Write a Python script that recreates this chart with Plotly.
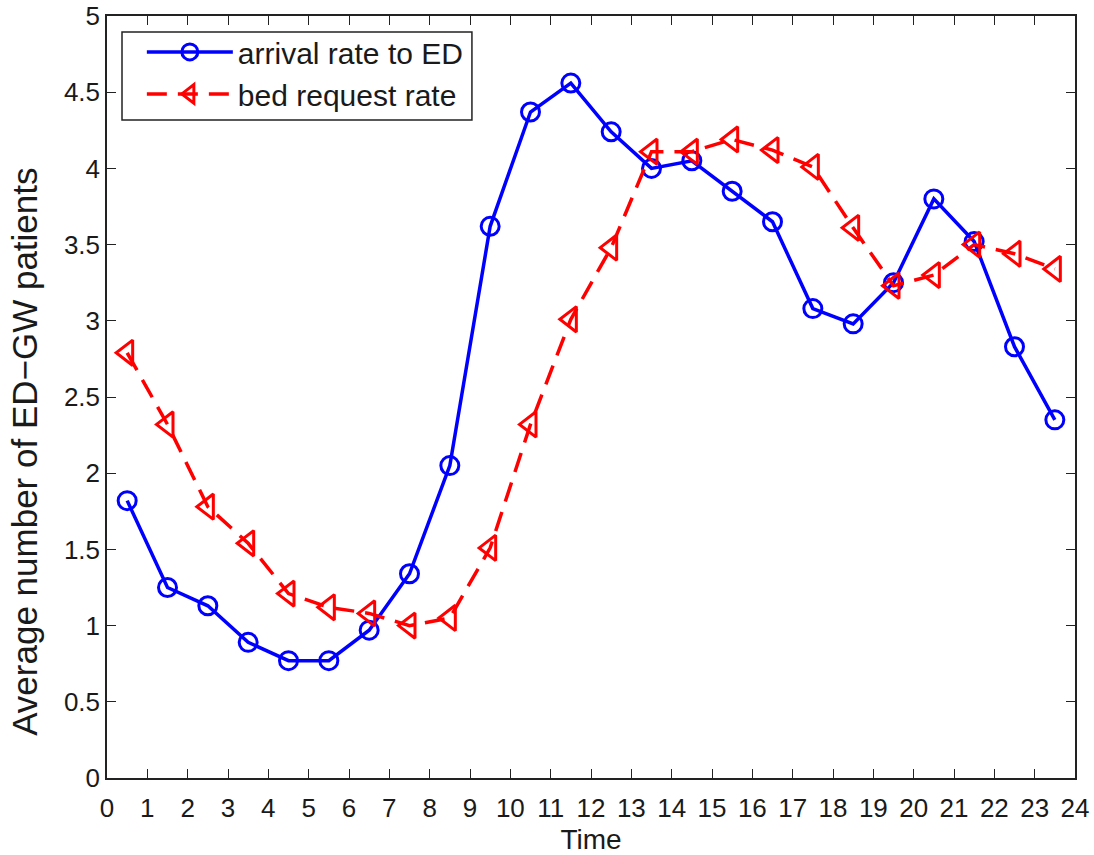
import plotly.graph_objects as go

hours = [h + 0.5 for h in range(24)]
arrival_rate = [1.82, 1.25, 1.13, 0.89, 0.77, 0.77, 0.97, 1.34, 2.05, 3.62, 4.37, 4.56,
                4.24, 4.00, 4.05, 3.85, 3.65, 3.08, 2.98, 3.25, 3.80, 3.52, 2.83, 2.35]
bed_request_rate = [2.79, 2.32, 1.78, 1.54, 1.21, 1.12, 1.08, 1.00, 1.05, 1.51, 2.32, 3.01,
                    3.48, 4.11, 4.11, 4.19, 4.12, 4.01, 3.61, 3.23, 3.30, 3.50, 3.44, 3.34]
x_ticks = list(range(25))
y_ticks = [0, 0.5, 1, 1.5, 2, 2.5, 3, 3.5, 4, 4.5, 5]
y_tick_labels = ["0", "0.5", "1", "1.5", "2", "2.5", "3", "3.5", "4", "4.5", "5"]
y_title = "Average number of ED\u2212GW patients"
x_title = "Time"

fig = go.Figure()
fig.add_trace(go.Scatter(
    x=hours, y=arrival_rate, mode="lines+markers", name="arrival rate to ED",
    line=dict(color="#0000ff", width=3.5),
    marker=dict(symbol="circle-open", size=18, color="#0000ff", line=dict(width=3)),
))
fig.add_trace(go.Scatter(
    x=hours, y=bed_request_rate, mode="lines+markers", name="bed request rate",
    line=dict(color="#ff0000", width=3.5, dash="20px,11px"),
    marker=dict(symbol="triangle-left-open", size=22, color="#ff0000", line=dict(width=3)),
))

font_family = "Liberation Sans, Arial, sans-serif"
fig.update_layout(
    width=1094, height=855,
    margin=dict(l=107, r=19, t=16, b=77, autoexpand=False),
    paper_bgcolor="white", plot_bgcolor="white",
    font=dict(family=font_family, size=26, color="#1a1a1a"),
    showlegend=True,
    legend=dict(
        x=0.036, y=0.987, xanchor="left", yanchor="top",
        borderwidth=0, bgcolor="rgba(0,0,0,0)",
        font=dict(size=30, color="#1a1a1a"),
        itemwidth=86,
    ),
    shapes=[dict(
        type="rect", xref="paper", yref="paper",
        x0=0.0155, x1=0.377, y0=0.8635, y1=0.979,
        line=dict(color="#222222", width=1.5), fillcolor="white", layer="below",
    )],
    annotations=[dict(
        text=y_title, textangle=-90, xref="paper", yref="paper",
        x=-0.0847, y=0.428, xanchor="center", yanchor="middle",
        showarrow=False, font=dict(size=35, color="#1a1a1a"),
    )],
)
fig.update_xaxes(
    range=[0, 24], tickvals=x_ticks, ticktext=[str(t) for t in x_ticks],
    ticks="inside", ticklen=9, tickwidth=1, tickcolor="#222222",
    showline=True, linecolor="#222222", linewidth=1.5, mirror="ticks",
    showgrid=False, zeroline=False, automargin=False,
    title=dict(text=x_title, standoff=8, font=dict(size=28)),
    tickfont=dict(size=26),
    ticklabelstandoff=6,
)
fig.update_yaxes(
    range=[0, 5], tickvals=y_ticks, ticktext=y_tick_labels,
    ticks="inside", ticklen=9, tickwidth=1, tickcolor="#222222",
    showline=True, linecolor="#222222", linewidth=1.5, mirror="ticks",
    showgrid=False, zeroline=False, automargin=False,
    tickfont=dict(size=26),
)

fig.write_html("out.html")
